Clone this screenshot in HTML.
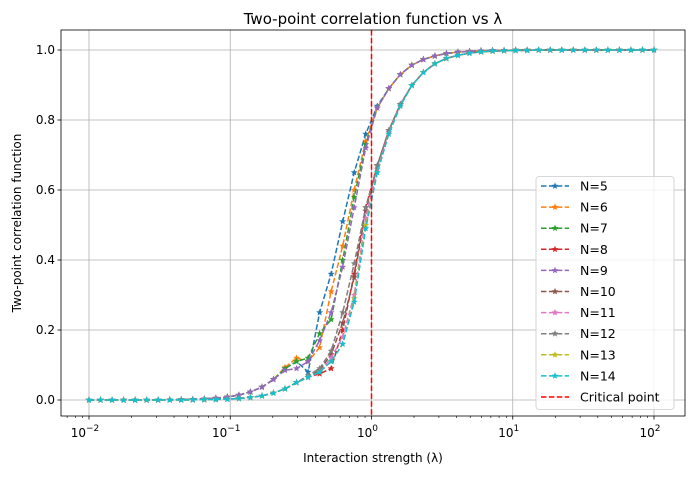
<!DOCTYPE html>
<html><head><meta charset="utf-8"><style>
body{margin:0;background:#fff;}
svg text{font-family:"DejaVu Sans","Liberation Sans",sans-serif;fill:#000;}
</style></head><body>
<svg id="chart" width="691" height="475" viewBox="0 0 691 475" xmlns="http://www.w3.org/2000/svg">
<rect width="691" height="475" fill="#fff"/>
<g id="grid"></g>
<g id="series"></g>
<g id="axes"></g>
<text x="373" y="24" font-size="15" text-anchor="middle">Two-point correlation function vs λ</text>
<text x="373" y="462" font-size="12" text-anchor="middle">Interaction strength (λ)</text>
<text x="21" y="223" font-size="12" text-anchor="middle" transform="rotate(-90 21 223)">Two-point correlation function</text>
<g id="legend"></g>
</svg>
<script>
const labels = ["N=5","N=6","N=7","N=8","N=9","N=10","N=11","N=12","N=13","N=14"];
const colors = ["#1f77b4","#ff7f0e","#2ca02c","#d62728","#9467bd","#8c564b","#e377c2","#7f7f7f","#bcbd22","#17becf"];
const logLambdaMin = -2, logLambdaMax = 2, nPoints = 50;
const xTicks = [-2,-1,0,1,2];
const yTicks = [0,0.2,0.4,0.6,0.8,1.0];
const yTickLabels = ["0.0","0.2","0.4","0.6","0.8","1.0"];
const criticalPoint = 1;
const tail = [0.999,0.999,1,1,1,1,1,1,1,1,1,1,1,1,1];
const s5 = [0,0,0,0.0001,0.0002,0.0003,0.0005,0.0008,0.0013,0.0021,0.0033,0.0054,0.0088,0.014,0.023,0.037,0.059,0.09,0.11,0.08,0.25,0.36,0.51,0.65,0.76,0.84,0.89,0.93,0.957,0.973,0.983,0.99,0.994,0.996,0.998].concat(tail);
const s6 = [0,0,0,0.0001,0.0002,0.0003,0.0005,0.0008,0.0013,0.0021,0.0033,0.0054,0.0088,0.014,0.023,0.037,0.059,0.093,0.12,0.11,0.15,0.31,0.44,0.60,0.74,0.835,0.89,0.93,0.957,0.973,0.983,0.99,0.994,0.996,0.998].concat(tail);
const s7 = [0,0,0,0.0001,0.0002,0.0003,0.0005,0.0008,0.0013,0.0021,0.0033,0.0054,0.0088,0.014,0.023,0.037,0.059,0.09,0.11,0.12,0.19,0.23,0.40,0.58,0.73,0.835,0.89,0.93,0.957,0.973,0.983,0.99,0.994,0.996,0.998].concat(tail);
const s9 = [0,0,0,0.0001,0.0002,0.0003,0.0005,0.0008,0.0013,0.0021,0.0033,0.0054,0.0088,0.014,0.023,0.037,0.059,0.085,0.09,0.11,0.17,0.25,0.38,0.55,0.72,0.835,0.89,0.93,0.957,0.973,0.983,0.99,0.994,0.996,0.998].concat(tail);
const s8 = [0,0,0,0,0.0001,0.0001,0.0001,0.0002,0.0003,0.0006,0.001,0.0016,0.0026,0.0044,0.0072,0.012,0.02,0.032,0.05,0.065,0.075,0.09,0.20,0.36,0.55,0.67,0.77,0.845,0.899,0.936,0.961,0.976,0.985,0.991,0.995,0.997,0.998,0.999,0.999,1,1,1,1,1,1,1,1,1,1,1];
const s10 = [0,0,0,0,0.0001,0.0001,0.0001,0.0002,0.0003,0.0006,0.001,0.0016,0.0026,0.0044,0.0072,0.012,0.02,0.032,0.05,0.065,0.085,0.13,0.22,0.35,0.54,0.67,0.77,0.845,0.899,0.936,0.961,0.976,0.985,0.991,0.995,0.997,0.998,0.999,0.999,1,1,1,1,1,1,1,1,1,1,1];
const s11 = [0,0,0,0,0.0001,0.0001,0.0001,0.0002,0.0003,0.0006,0.001,0.0016,0.0026,0.0044,0.0072,0.012,0.02,0.032,0.05,0.065,0.08,0.12,0.18,0.30,0.52,0.66,0.765,0.845,0.899,0.936,0.961,0.976,0.985,0.991,0.995,0.997,0.998,0.999,0.999,1,1,1,1,1,1,1,1,1,1,1];
const s12 = [0,0,0,0,0.0001,0.0001,0.0001,0.0002,0.0003,0.0006,0.001,0.0016,0.0026,0.0044,0.0072,0.012,0.02,0.032,0.05,0.07,0.09,0.14,0.25,0.39,0.55,0.67,0.77,0.845,0.899,0.936,0.961,0.976,0.985,0.991,0.995,0.997,0.998,0.999,0.999,1,1,1,1,1,1,1,1,1,1,1];
const s13 = [0,0,0,0,0.0001,0.0001,0.0001,0.0002,0.0003,0.0006,0.001,0.0016,0.0026,0.0044,0.0072,0.012,0.02,0.032,0.05,0.065,0.08,0.11,0.16,0.29,0.50,0.65,0.76,0.84,0.899,0.936,0.961,0.976,0.985,0.991,0.995,0.997,0.998,0.999,0.999,1,1,1,1,1,1,1,1,1,1,1];
const s14 = [0,0,0,0,0.0001,0.0001,0.0001,0.0002,0.0003,0.0006,0.001,0.0016,0.0026,0.0044,0.0072,0.012,0.02,0.032,0.05,0.065,0.08,0.11,0.16,0.28,0.49,0.65,0.76,0.84,0.899,0.936,0.961,0.976,0.985,0.991,0.995,0.997,0.998,0.999,0.999,1,1,1,1,1,1,1,1,1,1,1];
const seriesValues = [s5,s6,s7,s8,s9,s10,s11,s12,s13,s14];

const NS="http://www.w3.org/2000/svg";
const PL=61, PR=685, PT=30, PB=416;
const X0=89, X1=654, Y0=400, Y1=50;
function xScale(logv){return X0+(logv-logLambdaMin)/(logLambdaMax-logLambdaMin)*(X1-X0);}
function yScale(v){return Y0+(v-0)*(Y1-Y0);}
function mk(tag,attrs,parent){const e=document.createElementNS(NS,tag);for(const k in attrs)e.setAttribute(k,attrs[k]);parent.appendChild(e);return e;}
function star(cx,cy,r){let p=[];for(let i=0;i<10;i++){const a=-Math.PI/2+i*Math.PI/5;const rr=i%2?r*0.45:r;p.push((cx+rr*Math.cos(a)).toFixed(1)+","+(cy+rr*Math.sin(a)).toFixed(1));}return p.join(" ");}

const grid=document.getElementById('grid'), axes=document.getElementById('axes'), ser=document.getElementById('series'), leg=document.getElementById('legend');
xTicks.forEach(t=>{const x=xScale(t);
 const g=mk('line',{x1:x,x2:x,y1:PT,y2:PB,stroke:'#b0b0b0','stroke-width':0.8},grid);
 
 mk('line',{x1:x,x2:x,y1:PB,y2:PB+3.5,stroke:'#000','stroke-width':0.8},axes);
 const tx=mk('text',{x:x-4,y:PB+21,'font-size':12,'text-anchor':'middle'},axes);
 
 tx.textContent='10';
 const sup=mk('tspan',{dy:-6,'font-size':9},tx);sup.textContent=(t<0?'\u2212':'')+Math.abs(t);
});
for(let d=-3;d<=2;d++){for(let m=2;m<=9;m++){const lv=d+Math.log10(m);const x=xScale(lv);if(x<PL||x>PR)continue;mk('line',{x1:x,x2:x,y1:PB,y2:PB+2,stroke:'#000','stroke-width':0.6},axes);}}
yTicks.forEach((t,i)=>{const y=yScale(t);
 const g=mk('line',{x1:PL,x2:PR,y1:y,y2:y,stroke:'#b0b0b0','stroke-width':0.8},grid);
 
 mk('line',{x1:PL-3.5,x2:PL,y1:y,y2:y,stroke:'#000','stroke-width':0.8},axes);
 const tx=mk('text',{x:PL-6,y:y+4,'font-size':12,'text-anchor':'end'},axes);
 
 tx.textContent=yTickLabels[i];
});
const frame=mk('rect',{x:PL,y:PT,width:PR-PL,height:PB-PT,fill:'none',stroke:'#000','stroke-width':0.8},axes);


seriesValues.forEach((vals,si)=>{
 const g=mk('g',{},ser);
 
 const pts=vals.map((v,i)=>[xScale(logLambdaMin+i*(logLambdaMax-logLambdaMin)/(nPoints-1)),yScale(v)]);
 const pl=mk('polyline',{points:pts.map(p=>p[0].toFixed(1)+','+p[1].toFixed(1)).join(' '),fill:'none',stroke:colors[si],'stroke-width':1.5,'stroke-dasharray':'5.5,2.4'},g);
 
 pts.forEach(p=>{const s=mk('polygon',{points:star(p[0],p[1],3.6),fill:colors[si]},g);
  });
});
const cx=xScale(Math.log10(criticalPoint));
const cl=mk('line',{x1:cx,x2:cx,y1:PT,y2:PB,stroke:'#ff0000','stroke-width':1.5,'stroke-dasharray':'5.5,2.4'},ser);


const lb=mk('rect',{x:536,y:176.5,width:138,height:233,rx:3,fill:'#fff','fill-opacity':0.8,stroke:'#ccc','stroke-width':0.8},leg);

const legLabels=labels.concat(['Critical point']), legColors=colors.concat(['#ff0000']);
legLabels.forEach((l,i)=>{const y=186+i*21.1;
 const g=mk('g',{},leg);
 
 mk('line',{x1:541,x2:569,y1:y,y2:y,stroke:legColors[i],'stroke-width':1.5,'stroke-dasharray':'5.5,2.4'},g);
 if(i<10)mk('polygon',{points:star(555,y,3.6),fill:legColors[i]},g);
 const t=mk('text',{x:580,y:y+4.5,'font-size':12.5},g);t.textContent=l;
});
</script>
</body></html>
